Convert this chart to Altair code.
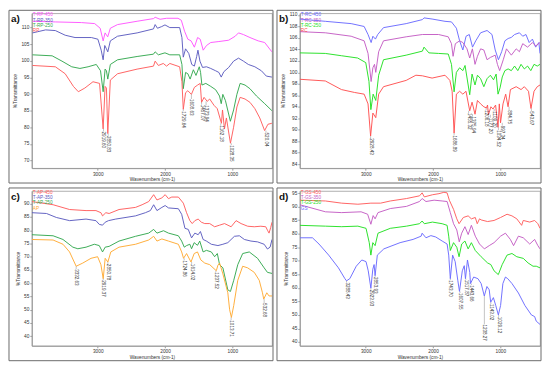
import altair as alt
import pandas as pd

FONT = "Liberation Sans"
X_DOMAIN = [3980, 410]
X_TICKS = [3000, 2000, 1000]
W, H = 242, 156

# ---------------- panel a ----------------
A_NAMES = ["T-RP-450", "T-RP-350", "T-RP-250", "RP"]
A_COLORS = ["#ff55ff", "#5b5bbf", "#33a84f", "#ff5c5c"]
A_RP450_WN = [3970, 3630, 3241, 3046, 2964, 2920, 2891, 2852, 2813, 2706, 2415, 2172, 2147, 2074, 1977, 1807, 1758, 1710, 1661, 1613, 1564, 1516, 1477, 1433, 1384, 1321, 1200, 1054, 957, 908, 835, 738, 616, 519, 412]
A_RP450_T = [111.9, 111.7, 111.5, 111.2, 109.8, 106.0, 108.4, 107.2, 109.8, 110.9, 111.9, 112.7, 113.1, 112.5, 112.8, 112.8, 112.2, 108.9, 106.5, 106.0, 104.1, 107.0, 106.5, 103.2, 104.6, 105.5, 105.8, 106.2, 107.4, 108.4, 107.9, 107.0, 106.0, 105.5, 102.7]
A_RP350_WN = [3970, 3775, 3630, 3484, 3338, 3095, 2998, 2949, 2920, 2896, 2871, 2851, 2813, 2706, 2415, 2172, 2147, 2113, 2050, 2001, 1929, 1783, 1749, 1729, 1695, 1647, 1603, 1564, 1530, 1511, 1481, 1443, 1384, 1321, 1248, 1200, 1165, 1127, 1054, 981, 908, 835, 762, 665, 568, 495, 412]
A_RP350_T = [108.4, 109.3, 109.1, 107.7, 107.0, 107.0, 106.5, 103.2, 100.3, 104.6, 103.6, 102.7, 106.0, 107.4, 108.4, 109.6, 110.9, 109.8, 110.3, 110.8, 110.0, 110.0, 107.0, 101.1, 103.6, 102.2, 98.9, 98.4, 101.3, 103.2, 99.9, 98.0, 98.2, 97.7, 97.0, 96.5, 95.1, 96.7, 98.0, 99.9, 100.8, 99.9, 98.9, 98.2, 97.0, 95.4, 95.1]
A_RP250_WN = [3970, 3678, 3532, 3387, 3265, 3144, 3022, 2959, 2920, 2891, 2871, 2851, 2813, 2706, 2415, 2172, 2147, 2099, 2001, 1929, 1783, 1749, 1729, 1695, 1661, 1627, 1579, 1540, 1491, 1472, 1452, 1394, 1321, 1248, 1190, 1165, 1141, 1102, 1029, 981, 932, 884, 811, 738, 641, 519, 412]
A_RP250_T = [101.8, 101.5, 99.9, 98.2, 97.7, 98.2, 98.9, 97.0, 90.7, 97.5, 97.0, 94.5, 98.9, 100.3, 101.3, 102.0, 102.7, 101.8, 102.4, 101.8, 101.8, 98.9, 91.6, 96.5, 96.1, 94.5, 97.3, 95.6, 98.2, 96.5, 92.7, 93.2, 92.3, 91.3, 89.4, 87.1, 89.9, 88.0, 81.8, 85.2, 89.9, 93.2, 92.7, 91.6, 89.4, 87.1, 85.0]
A_RP_WN = [3970, 3630, 3484, 3362, 3289, 3192, 3071, 2973, 2920, 2891, 2871, 2851, 2813, 2706, 2415, 2172, 2147, 2099, 2026, 1977, 1929, 1783, 1749, 1729, 1695, 1661, 1608, 1564, 1516, 1477, 1457, 1420, 1374, 1336, 1272, 1224, 1162, 1146, 1117, 1088, 1028, 981, 932, 884, 811, 738, 665, 592, 520, 471, 412]
A_RP_T = [98.6, 98.2, 96.1, 92.3, 90.7, 91.8, 93.7, 93.2, 79.5, 92.3, 91.8, 78.1, 94.2, 96.1, 97.5, 98.4, 99.9, 98.6, 99.2, 98.4, 99.2, 98.2, 93.7, 85.4, 90.4, 91.0, 89.9, 92.0, 92.7, 93.2, 87.5, 89.0, 87.8, 88.5, 86.6, 85.6, 81.2, 85.2, 79.5, 82.8, 75.2, 80.0, 86.1, 89.0, 88.5, 87.5, 85.6, 82.8, 79.0, 80.9, 81.2]
A_PEAK_TEXT = ["2919.60", "2850.83", "1729.64", "1608.63", "1457.07", "1373.94", "1162.18", "1028.35", "520.04"]
A_PEAK_POS = [2915, 2845, 1729, 1608, 1457, 1390, 1172, 1015, 500]
A_PEAK_TOP = [78.7, 77.4, 84.8, 88.5, 86.8, 86.6, 80.5, 74.6, 78.4]
A_PEAK_MIN = [79.5, 78.1, 85.4, 89.9, 87.5, 87.8, 81.2, 75.2, 79.0]
A_Y_DOMAIN = [67.7, 114.3]
A_Y_TICKS = [70, 75, 80, 85, 90, 95, 100, 105, 110]

# ---------------- panel b ----------------
B_NAMES = ["T-RC-450", "T-RC-350", "T-RC-250", "RC"]
B_COLORS = ["#6a6aff", "#c45cc4", "#22e022", "#ff5050"]
B_RC450_WN = [3986, 3601, 3217, 3024, 2966, 2920, 2894, 2856, 2822, 2736, 2399, 2158, 2134, 2014, 1822, 1726, 1653, 1605, 1557, 1509, 1461, 1413, 1365, 1293, 1197, 1124, 1076, 1028, 980, 932, 884, 836, 788, 716, 667, 619, 571, 523, 475, 427, 410]
B_RC450_T = [109.3, 108.9, 108.5, 108.0, 106.6, 105.2, 106.3, 105.8, 106.6, 107.8, 108.5, 109.2, 109.5, 109.3, 108.9, 108.8, 107.7, 105.5, 103.9, 106.3, 106.6, 104.4, 105.5, 106.9, 107.3, 106.6, 103.9, 102.2, 103.6, 105.5, 105.9, 106.1, 106.6, 106.9, 106.3, 106.6, 105.2, 105.8, 104.4, 105.2, 103.3]
B_RC350_WN = [3986, 3601, 3217, 3024, 2966, 2920, 2894, 2870, 2851, 2808, 2736, 2399, 2158, 1918, 1774, 1726, 1702, 1668, 1605, 1557, 1495, 1455, 1415, 1376, 1340, 1293, 1245, 1197, 1148, 1076, 1043, 1010, 956, 908, 836, 764, 716, 667, 595, 523, 475, 410]
B_RC350_T = [107.1, 106.9, 106.3, 105.5, 103.3, 98.4, 100.8, 101.4, 100.0, 103.6, 105.5, 106.2, 106.6, 106.6, 106.2, 105.0, 102.8, 105.0, 105.5, 105.2, 104.1, 102.5, 104.1, 101.4, 102.8, 104.1, 103.9, 102.2, 102.6, 103.0, 101.4, 100.3, 102.2, 104.1, 103.0, 104.1, 103.6, 105.0, 104.4, 105.2, 104.6, 105.2]
B_RC250_WN = [3986, 3601, 3361, 3120, 3000, 2952, 2924, 2890, 2851, 2808, 2736, 2399, 2158, 2134, 2062, 1918, 1774, 1726, 1687, 1653, 1605, 1557, 1524, 1455, 1420, 1376, 1340, 1293, 1245, 1197, 1148, 1101, 1062, 1034, 1004, 971, 932, 884, 836, 788, 740, 692, 643, 595, 547, 499, 451, 410]
B_RC250_T = [103.4, 103.3, 102.9, 102.5, 101.7, 98.4, 93.5, 96.2, 95.1, 99.5, 102.2, 103.0, 103.7, 104.4, 103.4, 103.3, 103.2, 101.4, 96.6, 100.0, 100.8, 100.3, 101.2, 96.1, 99.7, 97.8, 99.5, 98.9, 97.5, 98.9, 99.5, 98.7, 99.7, 96.2, 97.3, 99.2, 100.3, 100.6, 100.3, 101.1, 100.3, 101.4, 100.6, 101.1, 100.3, 101.4, 101.1, 101.4]
B_RC_WN = [3986, 3601, 3361, 3169, 3024, 2966, 2928, 2894, 2851, 2808, 2736, 2399, 2255, 2158, 2014, 1822, 1750, 1716, 1687, 1653, 1605, 1557, 1510, 1455, 1420, 1376, 1340, 1293, 1245, 1206, 1190, 1177, 1140, 1109, 1070, 1034, 1015, 997, 960, 920, 885, 850, 764, 692, 643, 581, 544, 499, 451, 410]
B_RC_T = [98.8, 98.5, 97.0, 96.5, 96.2, 94.5, 88.9, 92.9, 92.1, 96.2, 97.5, 98.6, 99.5, 99.4, 99.0, 99.5, 98.6, 96.7, 89.4, 96.2, 96.7, 96.2, 96.7, 93.3, 94.8, 92.7, 95.1, 94.5, 94.0, 93.8, 94.3, 92.6, 94.0, 93.6, 94.3, 90.4, 94.5, 91.2, 94.5, 96.2, 94.0, 97.0, 97.5, 97.0, 97.5, 96.7, 93.7, 96.7, 97.5, 97.8]
B_PEAK_TEXT = ["2928.43", "1686.89", "1455.32", "1375.94", "1206.18", "1177.20", "1109.20", "1034.52", "997.34", "884.75", "543.67"]
B_PEAK_POS = [2928, 1687, 1471, 1413, 1211, 1148, 1091, 1028, 971, 870, 538]
B_PEAK_TOP = [88.5, 89.0, 92.9, 92.3, 93.4, 92.1, 93.2, 89.9, 90.7, 93.4, 93.2]
B_PEAK_MIN = [88.9, 89.4, 93.3, 92.7, 93.8, 92.6, 93.6, 90.4, 91.2, 94.0, 93.7]
B_Y_DOMAIN = [83.3, 110.3]
B_Y_TICKS = [84, 86, 88, 90, 92, 94, 96, 98, 100, 102, 104, 106, 108, 110]

# ---------------- panel c ----------------
C_NAMES = ["T-AP-450", "T-AP-350", "T-AP-250", "AP"]
C_COLORS = ["#ff5c5c", "#5b5bbf", "#33a84f", "#ffaa33"]
C_AP450_WN = [3980, 3664, 3419, 3174, 3027, 2953, 2929, 2880, 2831, 2684, 2439, 2341, 2243, 2169, 2120, 2047, 1998, 1949, 1900, 1802, 1728, 1680, 1631, 1596, 1557, 1508, 1459, 1410, 1336, 1263, 1189, 1116, 1018, 944, 870, 772, 674, 576, 503, 478, 454, 430, 410]
C_AP450_T = [90.8, 89.6, 87.8, 87.4, 87.4, 86.6, 85.4, 86.6, 86.3, 87.8, 88.6, 89.6, 90.8, 93.4, 91.4, 92.2, 93.4, 91.9, 92.5, 92.5, 90.2, 86.6, 83.6, 82.5, 83.6, 84.2, 83.0, 82.5, 82.5, 81.3, 81.9, 82.5, 81.3, 83.6, 82.5, 81.5, 81.3, 81.5, 81.3, 80.0, 78.9, 81.0, 83.0]
C_AP350_WN = [3980, 3762, 3615, 3419, 3174, 3027, 2978, 2929, 2890, 2841, 2733, 2439, 2292, 2218, 2169, 2120, 2047, 1998, 1949, 1802, 1753, 1704, 1655, 1606, 1557, 1508, 1474, 1434, 1385, 1312, 1214, 1140, 1067, 969, 895, 821, 723, 625, 527, 478, 439, 410]
C_AP350_T = [86.6, 86.3, 84.8, 83.6, 84.2, 83.6, 82.2, 81.9, 83.0, 83.6, 84.2, 85.4, 86.6, 87.4, 89.6, 87.4, 88.6, 89.3, 88.4, 88.1, 86.0, 80.7, 80.3, 77.1, 78.9, 78.3, 79.5, 76.5, 75.9, 74.7, 74.2, 74.7, 75.3, 77.7, 77.9, 76.5, 75.9, 75.6, 74.7, 72.9, 73.6, 76.5]
C_AP250_WN = [3980, 3664, 3517, 3370, 3296, 3174, 3051, 2978, 2929, 2890, 2831, 2684, 2439, 2243, 2169, 2120, 2022, 1949, 1802, 1753, 1714, 1680, 1631, 1606, 1567, 1518, 1484, 1434, 1385, 1312, 1263, 1223, 1189, 1140, 1067, 1028, 979, 919, 846, 748, 625, 527, 478, 410]
C_AP250_T = [78.3, 77.9, 76.5, 73.6, 73.0, 73.6, 74.7, 74.2, 71.8, 73.6, 73.9, 75.9, 77.7, 78.9, 80.3, 78.9, 79.8, 78.9, 77.9, 75.9, 73.6, 74.2, 74.7, 73.0, 75.3, 74.3, 75.9, 71.8, 72.4, 71.8, 70.0, 71.2, 67.0, 65.8, 57.5, 56.9, 61.1, 67.0, 71.2, 71.8, 69.4, 65.8, 64.1, 63.7]
C_AP_WN = [3980, 3664, 3517, 3419, 3321, 3223, 3100, 3002, 2953, 2919, 2890, 2850, 2806, 2684, 2439, 2243, 2169, 2120, 2047, 1949, 1802, 1753, 1725, 1680, 1614, 1567, 1518, 1469, 1410, 1336, 1238, 1214, 1189, 1140, 1067, 1040, 1014, 979, 919, 846, 772, 674, 600, 552, 533, 488, 454, 410]
C_AP_T = [76.5, 76.3, 74.7, 71.8, 66.4, 67.6, 69.4, 70.0, 67.0, 61.7, 69.4, 68.0, 71.8, 73.6, 74.7, 76.3, 77.7, 75.9, 76.7, 75.9, 74.7, 71.8, 69.4, 71.2, 68.0, 71.2, 71.8, 68.8, 67.6, 67.0, 64.7, 66.8, 67.6, 63.5, 56.4, 50.0, 47.1, 51.6, 61.1, 66.4, 65.8, 64.1, 61.1, 56.4, 54.0, 56.4, 55.2, 55.2]
C_PEAK_TEXT = ["3332.63", "2919.37", "2850.78", "1724.86", "1614.02", "1237.52", "1013.71", "532.68"]
C_PEAK_POS = [3321, 2919, 2850, 1715, 1605, 1245, 1018, 527]
C_PEAK_TOP = [65.3, 61.1, 67.3, 68.6, 67.3, 64.1, 46.0, 52.5]
C_PEAK_MIN = [66.4, 61.7, 68.0, 69.4, 68.0, 64.7, 47.1, 54.0]
C_Y_DOMAIN = [36.4, 94.8]
C_Y_TICKS = [40, 45, 50, 55, 60, 65, 70, 75, 80, 85, 90]

# ---------------- panel d ----------------
D_NAMES = ["T-GS-450", "T-GS-350", "T-GS-250", "GS"]
D_COLORS = ["#ff5c5c", "#c45cc4", "#22e022", "#6a6aff"]
D_GS450_WN = [3980, 3599, 3358, 3117, 2924, 2779, 2635, 2394, 2201, 2162, 2129, 2008, 1912, 1839, 1791, 1758, 1695, 1647, 1613, 1550, 1478, 1430, 1372, 1343, 1309, 1285, 1189, 1093, 996, 900, 827, 755, 683, 659, 563, 490, 442, 410]
D_GS450_T = [92.4, 92.1, 91.3, 90.9, 91.3, 91.3, 92.1, 93.0, 94.0, 95.1, 93.6, 94.4, 94.8, 95.3, 95.1, 92.4, 89.0, 85.5, 83.7, 86.0, 86.6, 85.5, 86.0, 83.7, 85.5, 85.1, 84.5, 84.9, 86.0, 87.2, 86.6, 85.5, 83.1, 84.9, 84.3, 84.9, 83.7, 82.0]
D_GS350_WN = [3980, 3599, 3358, 3069, 2972, 2924, 2890, 2861, 2818, 2635, 2394, 2201, 2162, 2105, 1984, 1864, 1791, 1743, 1695, 1647, 1610, 1574, 1526, 1478, 1430, 1372, 1309, 1237, 1165, 1093, 996, 924, 851, 803, 731, 659, 563, 490, 442, 410]
D_GS350_T = [90.7, 88.1, 87.8, 88.1, 87.2, 83.5, 86.7, 85.5, 87.8, 89.3, 90.1, 91.9, 93.0, 91.9, 92.4, 92.1, 91.9, 87.8, 83.7, 81.4, 77.0, 80.2, 82.6, 79.7, 83.1, 79.1, 76.2, 74.4, 75.6, 76.7, 79.1, 80.2, 77.9, 75.6, 79.1, 78.5, 76.2, 77.9, 75.6, 74.4]
D_GS250_WN = [3980, 3599, 3358, 3117, 2996, 2948, 2924, 2895, 2861, 2818, 2635, 2394, 2201, 2162, 2129, 2008, 1864, 1791, 1767, 1743, 1695, 1647, 1613, 1574, 1526, 1478, 1430, 1372, 1285, 1189, 1141, 1093, 1030, 972, 900, 827, 755, 659, 587, 514, 466, 410]
D_GS250_T = [83.1, 82.8, 82.6, 82.8, 82.0, 76.7, 72.1, 76.7, 75.6, 80.2, 82.0, 82.8, 83.7, 84.7, 83.7, 84.3, 83.7, 83.1, 79.1, 73.8, 76.7, 75.0, 71.5, 76.2, 77.3, 74.4, 76.7, 73.8, 71.5, 69.2, 68.6, 66.3, 64.9, 68.6, 72.1, 72.7, 71.5, 70.9, 69.2, 68.0, 68.0, 67.4]
D_GS_WN = [3980, 3792, 3695, 3551, 3406, 3310, 3286, 3237, 3141, 3059, 2996, 2963, 2924, 2895, 2876, 2861, 2828, 2731, 2490, 2297, 2177, 2162, 2105, 2032, 1960, 1864, 1791, 1767, 1743, 1709, 1671, 1632, 1607, 1565, 1536, 1518, 1488, 1454, 1443, 1396, 1333, 1285, 1238, 1199, 1165, 1143, 1103, 1068, 1029, 996, 962, 924, 890, 827, 731, 635, 538, 490, 466, 410]
D_GS_T = [78.5, 78.5, 76.2, 72.1, 67.4, 63.4, 62.6, 63.4, 68.0, 70.3, 69.7, 66.3, 59.9, 66.9, 68.6, 64.5, 72.1, 74.4, 76.7, 77.9, 79.1, 80.2, 78.5, 79.3, 78.8, 77.3, 76.2, 72.1, 63.4, 72.1, 69.7, 62.8, 58.7, 66.3, 68.2, 63.4, 70.3, 65.7, 61.6, 64.0, 63.4, 61.6, 57.0, 60.5, 59.3, 54.7, 56.4, 53.5, 50.0, 53.5, 61.6, 64.0, 63.4, 61.6, 58.1, 53.5, 50.0, 49.4, 47.7, 46.5]
D_PEAK_TEXT = ["3288.43", "2923.93", "2853.93", "1743.70", "1607.55", "1517.87", "1443.66", "1238.27", "1143.02", "1029.12"]
D_PEAK_POS = [3286, 2924, 2861, 1743, 1599, 1512, 1430, 1237, 1141, 1025]
D_PEAK_TOP = [62.0, 59.3, 64.0, 62.8, 58.1, 63.0, 61.0, 46.5, 54.0, 49.3]
D_PEAK_MIN = [62.6, 59.9, 64.5, 63.4, 58.7, 63.4, 61.6, 57.0, 54.7, 50.0]
D_Y_DOMAIN = [38.6, 95.8]
D_Y_TICKS = [40, 45, 50, 55, 60, 65, 70, 75, 80, 85, 90, 95]

LEGEND_Y = [2, 7.3, 12.6, 17.9]


def panel(letter, names, colors, series, ptext, ppos, ptop, pmin, ydom, yticks):
    rows = []
    for name, col, (wn, tr) in zip(names, colors, series):
        for a, b in zip(wn, tr):
            rows.append({"series": name, "col": col, "wn": a, "T": b})
    df = pd.DataFrame(rows)
    x = alt.X("wn:Q", scale=alt.Scale(domain=X_DOMAIN, nice=False, zero=False),
              axis=alt.Axis(values=X_TICKS, format="d", title="Wavenumbers (cm-1)"))
    y = alt.Y("T:Q", scale=alt.Scale(domain=ydom, nice=False, zero=False),
              axis=alt.Axis(values=yticks, format="d", title="%Transmittance"))
    one = pd.DataFrame({"k": [0]})
    frame = alt.Chart(one).mark_rect(fillOpacity=0, stroke="#6b6b6b", strokeWidth=1).encode(
        x=alt.value(-23), x2=alt.value(W + 1), y=alt.value(-3), y2=alt.value(H + 15))
    lines = alt.Chart(df).mark_line(strokeWidth=0.95, clip=True).encode(
        x=x, y=y,
        color=alt.Color("col:N", scale=None),
        detail="series:N")
    pk = pd.DataFrame({"text": ptext, "wn": ppos, "T": ptop, "Tmin": pmin})
    leaders = alt.Chart(pk).mark_rule(color="#888", strokeWidth=0.5).encode(
        x=x, y=y, y2=alt.Y2("Tmin:Q"))
    labels = alt.Chart(pk).mark_text(angle=90, align="left", baseline="middle",
                                     fontSize=4.6, font=FONT, color="#333").encode(
        x=x, y=y, text="text:N")
    legend = [
        alt.Chart(one).mark_text(text=n, align="left", baseline="middle", fontSize=4.7,
                                 font=FONT, color=c).encode(x=alt.value(1), y=alt.value(ly))
        for n, c, ly in zip(names, colors, LEGEND_Y)
    ]
    tag = alt.Chart(one).mark_text(text=letter, align="left", baseline="middle", fontSize=10,
                                   fontWeight="bold", font=FONT, color="#111").encode(
        x=alt.value(-21), y=alt.value(6))
    return alt.layer(frame, lines, leaders, labels, *legend, tag).properties(width=W, height=H)


pa = panel("a)", A_NAMES, A_COLORS,
           [(A_RP450_WN, A_RP450_T), (A_RP350_WN, A_RP350_T), (A_RP250_WN, A_RP250_T), (A_RP_WN, A_RP_T)],
           A_PEAK_TEXT, A_PEAK_POS, A_PEAK_TOP, A_PEAK_MIN, A_Y_DOMAIN, A_Y_TICKS)
pb = panel("b)", B_NAMES, B_COLORS,
           [(B_RC450_WN, B_RC450_T), (B_RC350_WN, B_RC350_T), (B_RC250_WN, B_RC250_T), (B_RC_WN, B_RC_T)],
           B_PEAK_TEXT, B_PEAK_POS, B_PEAK_TOP, B_PEAK_MIN, B_Y_DOMAIN, B_Y_TICKS)
pc = panel("c)", C_NAMES, C_COLORS,
           [(C_AP450_WN, C_AP450_T), (C_AP350_WN, C_AP350_T), (C_AP250_WN, C_AP250_T), (C_AP_WN, C_AP_T)],
           C_PEAK_TEXT, C_PEAK_POS, C_PEAK_TOP, C_PEAK_MIN, C_Y_DOMAIN, C_Y_TICKS)
pd_ = panel("d)", D_NAMES, D_COLORS,
            [(D_GS450_WN, D_GS450_T), (D_GS350_WN, D_GS350_T), (D_GS250_WN, D_GS250_T), (D_GS_WN, D_GS_T)],
            D_PEAK_TEXT, D_PEAK_POS, D_PEAK_TOP, D_PEAK_MIN, D_Y_DOMAIN, D_Y_TICKS)

chart = alt.vconcat(
    alt.hconcat(pa, pb, spacing=2),
    alt.hconcat(pc, pd_, spacing=2),
    spacing=3,
).properties(padding=0, background="white").configure_view(
    stroke="#9a9a9a", strokeWidth=0.8
).configure_axis(
    labelFont=FONT, titleFont=FONT, labelFontSize=4.8, titleFontSize=4.8,
    titleFontWeight="normal", labelColor="#333", titleColor="#333",
    domainColor="#9a9a9a", tickColor="#9a9a9a", tickSize=2, labelPadding=1,
    grid=False
).configure_axisX(titlePadding=1).configure_axisY(titlePadding=3)

chart.save("out.html", embed_options={"renderer": "svg", "actions": False})
